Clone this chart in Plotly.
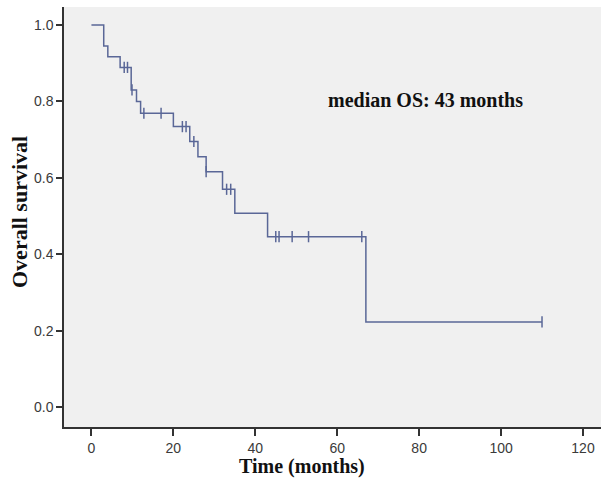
import numpy as np
import plotly.graph_objects as go

# Kaplan-Meier step data
event_times = [0, 3, 4, 7, 9.7, 11, 12, 20, 24, 26, 28, 32, 35, 43, 67]
survival = [1.0, 0.945, 0.917, 0.889, 0.830, 0.800, 0.769, 0.734, 0.695, 0.655,
            0.616, 0.570, 0.507, 0.446, 0.223]
censor_times = [8.0, 8.8, 9.9, 12.8, 17, 22.2, 23.1, 25, 28, 33, 34,
                45, 45.8, 49, 53, 66, 110]
last_time = 110

x_ticks = [0, 20, 40, 60, 80, 100, 120]
y_ticks = [0.0, 0.2, 0.4, 0.6, 0.8, 1.0]
y_tick_labels = ["0.0", "0.2", "0.4", "0.6", "0.8", "1.0"]

line_color = "#5a6797"

# survival value at each censor time (step lookup)
idx = np.searchsorted(event_times, censor_times, side="right") - 1
censor_surv = [survival[i] for i in idx]

fig = go.Figure()
fig.add_trace(go.Scatter(
    x=event_times + [last_time], y=survival + [survival[-1]],
    mode="lines", line=dict(color=line_color, width=1.5, shape="hv"),
    showlegend=False, hoverinfo="skip"))
fig.add_trace(go.Scatter(
    x=censor_times, y=censor_surv, mode="markers",
    marker=dict(symbol="line-ns", size=8, line=dict(color=line_color, width=1.5)),
    showlegend=False))

tick_font = dict(family="Liberation Sans, Arial", size=14, color="#3a3a3a")
title_font = "Liberation Serif, Times New Roman"

fig.update_layout(
    width=603, height=479,
    margin=dict(l=64, r=2, t=7, b=52),
    paper_bgcolor="white", plot_bgcolor="#f0f0f0",
    xaxis=dict(range=[-6.7, 124.4], tickvals=x_ticks, ticks="outside", ticklen=7,
               tickwidth=1.5, tickcolor="#333", showline=True, linecolor="#333",
               linewidth=1.5, showgrid=False, zeroline=False, tickfont=tick_font),
    yaxis=dict(range=[-0.052, 1.047], tickvals=y_ticks, ticktext=y_tick_labels,
               ticks="outside", ticklen=6, tickwidth=1.5, tickcolor="#333",
               showline=True, linecolor="#333", linewidth=1.5, showgrid=False,
               zeroline=False, tickfont=tick_font),
    annotations=[
        dict(text="<b>Time (months)</b>", xref="paper", yref="paper",
             x=(302 - 64) / (601 - 64), y=-(466 - 427) / 420, xanchor="center",
             yanchor="middle", showarrow=False,
             font=dict(family=title_font, size=20, color="#111")),
        dict(text="<b>Overall survival</b>", xref="paper", yref="paper",
             x=-(64 - 19) / 537, y=(427 - 212) / 420, xanchor="center",
             yanchor="middle", textangle=-90, showarrow=False,
             font=dict(family=title_font, size=22, color="#111")),
        dict(text="<b>median OS: 43 months</b>", xref="paper", yref="paper",
             x=(425 - 64) / 537, y=(427 - 100) / 420, xanchor="center",
             yanchor="middle", showarrow=False,
             font=dict(family=title_font, size=20, color="#111")),
    ],
)

fig.write_html("out.html", config={"displayModeBar": False},
               post_script="document.body.style.margin='0';document.body.style.padding='0';")
